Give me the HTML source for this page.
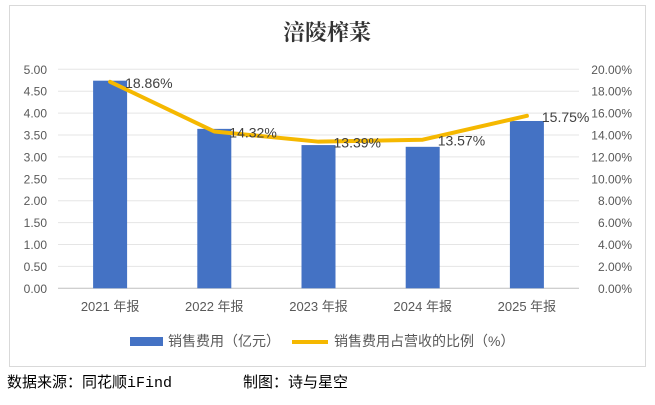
<!DOCTYPE html>
<html><head><meta charset="utf-8"><style>
body{margin:0;width:655px;height:400px;background:#fff;overflow:hidden;font-family:"Liberation Sans","Noto Sans CJK SC",sans-serif}
</style></head><body>
<svg id="c" width="655" height="400" xmlns="http://www.w3.org/2000/svg">
<rect x="9.5" y="5.5" width="636" height="361" fill="#fff" stroke="#d9d9d9"/>
<text x="327" y="40" text-anchor="middle" font-family="'Noto Serif CJK SC',serif" font-weight="bold" font-size="22" fill="#333">涪陵榨菜</text>
<g id="grid"></g><g id="bars"></g><g id="line"></g><g id="labels"></g>
<g>
<rect x="130" y="337" width="33" height="9" fill="#4472c4"/>
<text x="168" y="346" font-size="14" fill="#595959">销售费用（亿元）</text>
<line x1="292" y1="342" x2="328" y2="342" stroke="#f5b800" stroke-width="4"/>
<text x="334" y="346" font-size="14" fill="#595959">销售费用占营收的比例（%）</text>
</g>
<text x="7" y="387" font-size="15" fill="#000" font-family="'Liberation Mono','Noto Sans CJK SC',monospace">数据来源：同花顺iFind</text>
<text x="243" y="387" font-size="15" fill="#000" font-family="'Liberation Mono','Noto Sans CJK SC',monospace">制图：诗与星空</text>
</svg>
<script>
const categories=["2021 年报","2022 年报","2023 年报","2024 年报","2025 年报"];
const salesExpense=[4.74,3.64,3.27,3.23,3.82];
const ratio=[18.86,14.32,13.39,13.57,15.75];
const leftTicks=["0.00","0.50","1.00","1.50","2.00","2.50","3.00","3.50","4.00","4.50","5.00"];
const rightTicks=["0.00%","2.00%","4.00%","6.00%","8.00%","10.00%","12.00%","14.00%","16.00%","18.00%","20.00%"];
const NS="http://www.w3.org/2000/svg";
const L=58,R=579,T=69.3,B=288.3;
const yL=v=>B-(v/5)*(B-T), yR=v=>B-(v/20)*(B-T);
const band=(R-L)/categories.length, xC=i=>L+band*(i+0.5);
function mk(t,a,p){const e=document.createElementNS(NS,t);for(const k in a)e.setAttribute(k,a[k]);p.appendChild(e);return e;}
const g=document.getElementById('grid');
leftTicks.forEach((t,i)=>{const y=yL(i*0.5);
 const ln=mk('line',{x1:L,x2:R,y1:y,y2:y,stroke:i==0?'#bfbfbf':'#e5e5e5','stroke-width':1},g);
 
 
 const tx=mk('text',{x:47,y:y+4.5,'text-anchor':'end','font-size':12,fill:'#595959'},g);tx.textContent=t;
 
 
});
rightTicks.forEach((t,i)=>{const y=yR(i*2);
 const tx=mk('text',{x:632,y:y+4.5,'text-anchor':'end','font-size':12,fill:'#595959'},g);tx.textContent=t;
 
 
});
categories.forEach((c,i)=>{
 const tx=mk('text',{x:xC(i),y:311,'text-anchor':'middle','font-size':13,fill:'#595959'},g);tx.textContent=c;
 
 
});
const bg=document.getElementById('bars');
salesExpense.forEach((v,i)=>{
 const r=mk('rect',{x:xC(i)-17,y:yL(v),width:34,height:B-yL(v),fill:'#4472c4'},bg);
 
 
});
const pts=ratio.map((v,i)=>xC(i)+','+yR(v)).join(' ');
const pl=mk('polyline',{points:pts,fill:'none',stroke:'#f5b800','stroke-width':4,'stroke-linejoin':'round','stroke-linecap':'round'},document.getElementById('line'));


const lg=document.getElementById('labels');
ratio.forEach((v,i)=>{
 const tx=mk('text',{x:xC(i)+15,y:yR(v)+6,'font-size':14,fill:'#404040'},lg);tx.textContent=v.toFixed(2)+'%';
 
 
});
</script>
</body></html>
